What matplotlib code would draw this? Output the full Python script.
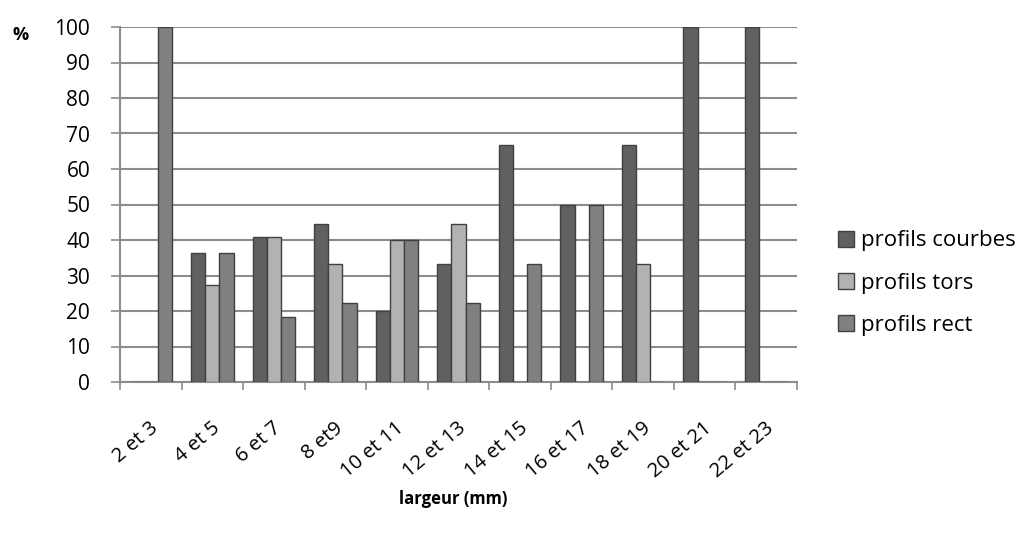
import matplotlib
matplotlib.use("Agg")
import matplotlib.pyplot as plt
import numpy as np

plt.rcParams['font.family'] = ['Open Sans', 'DejaVu Sans']

categories = ["2 et 3", "4 et 5", "6 et 7", "8 et9", "10 et 11", "12 et 13",
              "14 et 15", "16 et 17", "18 et 19", "20 et 21", "22 et 23"]
courbes = [0, 36.4, 40.9, 44.4, 20, 33.3, 66.7, 50, 66.7, 100, 100]
tors = [0, 27.3, 40.9, 33.3, 40, 44.4, 0, 0, 33.3, 0, 0]
rect = [100, 36.4, 18.2, 22.2, 40, 22.2, 33.3, 50, 0, 0, 0]
series_names = ["profils courbes", "profils tors", "profils rect"]
colors = ["#606060", "#b2b2b2", "#808080"]

fig = plt.figure(figsize=(10.22, 5.35), dpi=100)
ax = fig.add_axes([120/1022, 1-382/535, (797-120)/1022, (382-27)/535])

x = np.arange(len(categories))
w = 0.23
for i, (vals, name, c) in enumerate(zip([courbes, tors, rect], series_names, colors)):
    ax.bar(x + (i-1)*w, vals, width=w, color=c, edgecolor="#404040", linewidth=1.0,
           label=name, zorder=3)

ax.set_xlim(-0.5, len(categories)-0.5)
ax.set_ylim(0, 100)
ax.set_yticks(np.arange(0, 101, 10))
ax.yaxis.grid(True, color="#8c8c8c", linewidth=1.5, zorder=0)
ax.set_axisbelow(True)
for s in ["top", "right"]:
    ax.spines[s].set_visible(False)
for s in ["left", "bottom"]:
    ax.spines[s].set_color("#8c8c8c")
    ax.spines[s].set_linewidth(1.5)
ax.set_xticks(np.arange(-0.5, len(categories)), minor=False)
ax.set_xticklabels([])
ax.tick_params(axis='x', length=6, color="#8c8c8c", width=1.2)
ax.tick_params(axis='y', length=6.5, color="#8c8c8c", width=1.2, labelsize=15, pad=15)
for xi, lab in zip(x, categories):
    ax.annotate(lab, xy=(xi, 0), xycoords=('data', 'axes fraction'),
                xytext=(-1, -26), textcoords='offset points',
                rotation=40, ha='right', va='top', fontsize=14.5, rotation_mode='anchor')

fig.text(21/1022, 1-35/535, "%", fontsize=13, fontweight='bold', ha='center', va='center')
fig.text(453/1022, 1-499/535, "largeur (mm)", fontsize=12, fontweight='bold', ha='center', va='center')

ax.legend(loc='center left', bbox_to_anchor=(818/1022, 1-283/535), bbox_transform=fig.transFigure,
          frameon=False, fontsize=16, handlelength=0.72, handleheight=0.72, handletextpad=0.3,
          labelspacing=0.95)

fig.savefig("out.png", dpi=100)
